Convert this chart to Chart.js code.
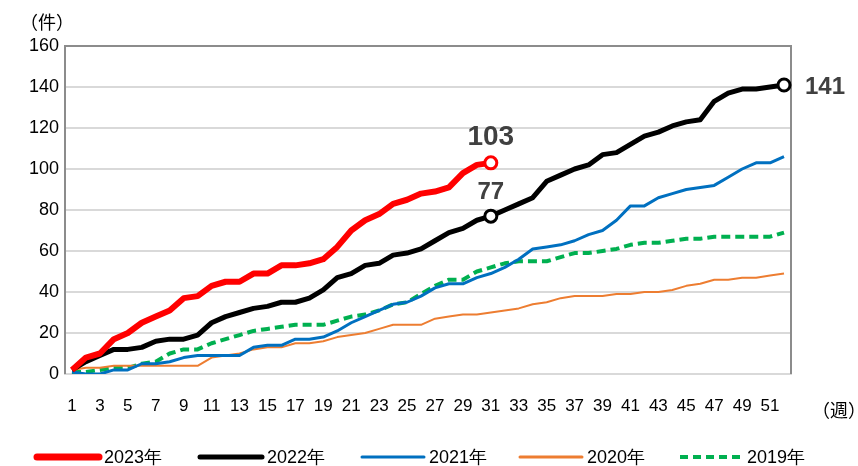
<!DOCTYPE html>
<html lang="ja">
<head>
<meta charset="UTF-8">
<title>週別累計件数</title>
<script src="https://cdn.jsdelivr.net/npm/chart.js"></script>
<style>
  html, body { margin: 0; padding: 0; background: #fff; }
  #wrap { position: relative; width: 858px; height: 466px; }
</style>
</head>
<body>
<div id="wrap"><canvas id="chart" width="858" height="466"></canvas></div>
<script>
// week labels (x axis)
const weeks = ['1','2','3','4','5','6','7','8','9','10','11','12','13','14','15','16','17','18','19','20',
  '21','22','23','24','25','26','27','28','29','30','31','32','33','34','35','36','37','38','39','40',
  '41','42','43','44','45','46','47','48','49','50','51','52'];

// cumulative counts per year
const y2023 = [2,8,10,17,20,25,28,31,37,38,43,45,45,49,49,53,53,54,56,62,70,75,78,83,85,88,89,91,98,102,103];
const y2022 = [2,6,9,12,12,13,16,17,17,19,25,28,30,32,33,35,35,37,41,47,49,53,54,58,59,61,65,69,71,75,77,
  80,83,86,94,97,100,102,107,108,112,116,118,121,123,124,133,137,139,139,140,141];
const y2021 = [1,0,0,2,2,5,5,6,8,9,9,9,9,13,14,14,17,17,18,21,25,28,31,34,35,38,42,44,44,47,49,
  52,56,61,62,63,65,68,70,75,82,82,86,88,90,91,92,96,100,103,103,106];
const y2020 = [2,3,3,4,4,4,4,4,4,4,8,9,10,12,13,13,15,15,16,18,19,20,22,24,24,24,27,28,29,29,30,
  31,32,34,35,37,38,38,38,39,39,40,40,41,43,44,46,46,47,47,48,49];
const y2019 = [1,1,2,3,3,5,6,10,12,12,15,17,19,21,22,23,24,24,24,26,28,29,31,34,35,39,43,46,46,50,52,
  54,55,55,55,57,59,59,60,61,63,64,64,65,66,66,67,67,67,67,67,69];

const seriesNames = ['2023年', '2022年', '2021年', '2020年', '2019年'];
// points that carry an end marker + value label
const markIdx = { 0: [30], 1: [30, 51] };

const FONT = '"Liberation Sans", sans-serif';
const JP = '"Noto Sans CJK JP", sans-serif';

function markerRadius() {
  return ctx => (markIdx[ctx.datasetIndex] || []).includes(ctx.dataIndex) ? 6 : 0;
}

const datasets = [
  { label: seriesNames[0], data: y2023, borderColor: '#FF0000', borderWidth: 6 },
  { label: seriesNames[1], data: y2022, borderColor: '#000000', borderWidth: 5 },
  { label: seriesNames[2], data: y2021, borderColor: '#0070C0', borderWidth: 3 },
  { label: seriesNames[3], data: y2020, borderColor: '#ED7D31', borderWidth: 2 },
  { label: seriesNames[4], data: y2019, borderColor: '#00B050', borderWidth: 4, borderDash: [9, 5] }
].map(d => Object.assign(d, {
  backgroundColor: '#fff',
  tension: 0,
  fill: false,
  borderJoinStyle: 'round',
  pointRadius: markerRadius(),
  pointHoverRadius: 0,
  pointBackgroundColor: '#fff',
  pointBorderColor: d.borderColor,
  pointBorderWidth: 3
}));

// frame, legend, value labels and axis units
const decor = {
  id: 'decor',
  beforeDatasetsDraw(chart) {
    const { ctx, chartArea: a } = chart;
    ctx.save();
    ctx.strokeStyle = '#8C8C8C';
    ctx.lineWidth = 2;
    ctx.beginPath();
    ctx.moveTo(a.left, a.bottom);
    ctx.lineTo(a.left, a.top);
    ctx.lineTo(a.right, a.top);
    ctx.lineTo(a.right, a.bottom);
    ctx.stroke();
    ctx.restore();
  },
  afterDatasetsDraw(chart) {
    const { ctx } = chart;
    ctx.save();
    ctx.fillStyle = '#404040';
    ctx.textAlign = 'center';
    ctx.textBaseline = 'middle';
    const p23 = chart.getDatasetMeta(0).data[30];
    ctx.font = 'bold 28px ' + FONT;
    ctx.fillText(String(y2023[30]), p23.x, p23.y - 26);
    const p22 = chart.getDatasetMeta(1).data[30];
    ctx.font = 'bold 24px ' + FONT;
    ctx.fillText(String(y2022[30]), p22.x, p22.y - 24);
    const p22e = chart.getDatasetMeta(1).data[51];
    ctx.textAlign = 'left';
    ctx.fillText(String(y2022[51]), p22e.x + 21, p22e.y + 2);

    // axis units
    ctx.fillStyle = '#000';
    ctx.font = '18px ' + JP;
    ctx.textAlign = 'left';
    ctx.fillText('（件）', 20, 22);
    ctx.fillText('（週）', 812, 410);

    // legend
    const items = chart.data.datasets;
    const xs = [37, 200, 362, 520, 680];
    const ly = 457;
    items.forEach((d, i) => {
      ctx.beginPath();
      ctx.strokeStyle = d.borderColor;
      ctx.lineWidth = i === 0 ? 7 : Math.max(d.borderWidth, 3);
      ctx.lineCap = d.borderDash ? 'butt' : 'round';
      ctx.setLineDash(d.borderDash ? [8, 5] : []);
      ctx.moveTo(xs[i], ly);
      ctx.lineTo(xs[i] + 62, ly);
      ctx.stroke();
      ctx.setLineDash([]);
      ctx.fillStyle = '#000';
      ctx.font = '18px ' + FONT;
      ctx.textAlign = 'left';
      ctx.fillText(d.label, xs[i] + 67, ly + 1);
    });
    ctx.restore();
  }
};

new Chart(document.getElementById('chart'), {
  type: 'line',
  data: { labels: weeks, datasets: datasets },
  plugins: [decor],
  options: {
    responsive: false,
    animation: false,
    events: [],
    layout: { padding: { left: 0, top: 46, right: 67, bottom: 0 } },
    plugins: { legend: { display: false }, tooltip: { enabled: false } },
    scales: {
      x: {
        type: 'category',
        offset: true,
        afterFit: s => { s.height = 92; },
        grid: { display: false, drawTicks: false },
        border: { display: true, color: '#D9D9D9', width: 2 },
        ticks: {
          autoSkip: false,
          maxRotation: 0,
          padding: 22,
          color: '#000',
          font: { family: FONT, size: 17 },
          callback: (v, i) => (i % 2 === 0 ? weeks[i] : '')
        }
      },
      y: {
        min: 0,
        max: 160,
        afterFit: s => { s.width = 65; },
        grid: { color: '#D9D9D9', lineWidth: 2, drawTicks: false },
        border: { display: false },
        ticks: {
          stepSize: 20,
          padding: 6,
          color: '#000',
          font: { family: FONT, size: 18 }
        }
      }
    }
  }
});
</script>
</body>
</html>
